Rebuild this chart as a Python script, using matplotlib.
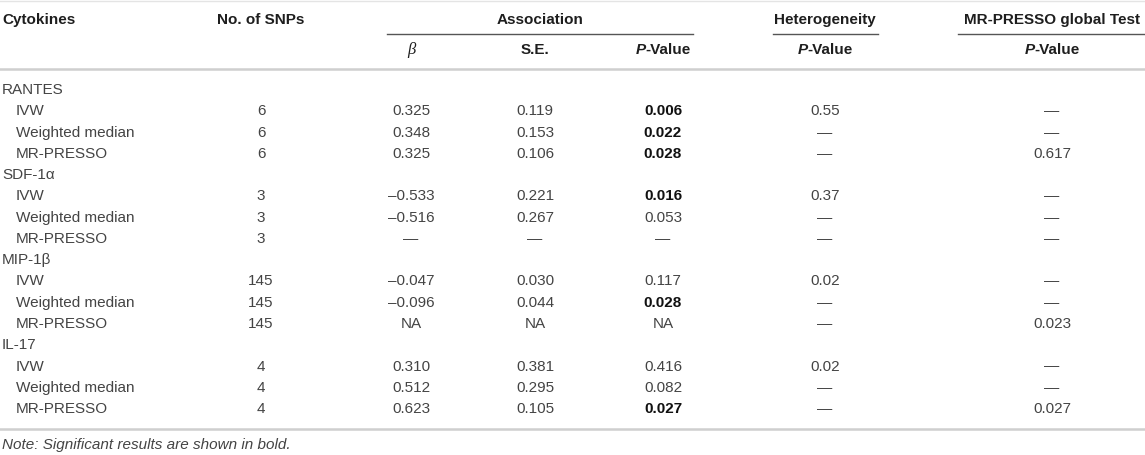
import matplotlib
matplotlib.use("Agg")
import matplotlib.pyplot as plt
from matplotlib.offsetbox import TextArea, HPacker, AnnotationBbox

plt.rcParams['font.family'] = ['Liberation Sans', 'DejaVu Sans']

groups = ["RANTES", "SDF-1\u03b1", "MIP-1\u03b2", "IL-17"]
methods = ["IVW", "Weighted median", "MR-PRESSO"]
D = "\u2014"
snps = [6, 3, 145, 4]
beta = [["0.325", "0.348", "0.325"],
        ["\u20130.533", "\u20130.516", D],
        ["\u20130.047", "\u20130.096", "NA"],
        ["0.310", "0.512", "0.623"]]
se = [["0.119", "0.153", "0.106"],
      ["0.221", "0.267", D],
      ["0.030", "0.044", "NA"],
      ["0.381", "0.295", "0.105"]]
pval = [["0.006", "0.022", "0.028"],
        ["0.016", "0.053", D],
        ["0.117", "0.028", "NA"],
        ["0.416", "0.082", "0.027"]]
pbold = [[True, True, True],
         [True, False, False],
         [False, True, False],
         [False, False, True]]
het = [["0.55", D, D],
       ["0.37", D, D],
       ["0.02", D, D],
       ["0.02", D, D]]
presso = [[D, D, "0.617"],
          [D, D, D],
          [D, D, "0.023"],
          [D, D, "0.027"]]
note = "Note: Significant results are shown in bold."

fig = plt.figure(figsize=(11.45, 4.55), dpi=100)
ax = fig.add_axes([0, 0, 1, 1])
ax.set_xlim(0, 1145)
ax.set_ylim(455, 0)
ax.axis('off')

fs = 11
txt = '#444444'
hdr = '#1e1e1e'
cols = {'snp': 261, 'beta': 411, 'se': 535, 'p': 663, 'het': 825, 'mr': 1052}

def pvalue_header(x, y):
    a = TextArea("P", textprops=dict(fontsize=fs, fontweight='bold', style='italic', color=hdr))
    b = TextArea("-Value", textprops=dict(fontsize=fs, fontweight='bold', color=hdr))
    box = HPacker(children=[a, b], pad=0, sep=0, align='baseline')
    ab = AnnotationBbox(box, (x, y), xycoords='data', frameon=False, box_alignment=(0.5, 0.5), pad=0)
    ax.add_artist(ab)

# rules
ax.plot([0, 1145], [1, 1], color='#e4e4e4', lw=1)
ax.plot([0, 1145], [69, 69], color='#cfcfcf', lw=1.8)
ax.plot([0, 1145], [429, 429], color='#cfcfcf', lw=1.8)
ax.plot([387, 693], [33.5, 33.5], color='#555555', lw=1)
ax.plot([773, 878], [33.5, 33.5], color='#555555', lw=1)
ax.plot([958, 1145], [33.5, 33.5], color='#555555', lw=1)

# header
y1, y2 = 20, 50
ax.text(2, y1, "Cytokines", fontsize=fs, fontweight='bold', color=hdr, va='center')
ax.text(cols['snp'], y1, "No. of SNPs", fontsize=fs, fontweight='bold', color=hdr, va='center', ha='center')
ax.text(540, y1, "Association", fontsize=fs, fontweight='bold', color=hdr, va='center', ha='center')
ax.text(825, y1, "Heterogeneity", fontsize=fs, fontweight='bold', color=hdr, va='center', ha='center')
ax.text(1052, y1, "MR-PRESSO global Test", fontsize=fs, fontweight='bold', color=hdr, va='center', ha='center')
ax.text(cols['beta'], y2, "\u03b2", fontsize=fs + 1, style='italic', family='Liberation Serif', color=hdr, va='center', ha='center')
ax.text(cols['se'], y2, "S.E.", fontsize=fs, fontweight='bold', color=hdr, va='center', ha='center')
pvalue_header(cols['p'], y2)
pvalue_header(cols['het'], y2)
pvalue_header(cols['mr'], y2)

# body
row = 0
y0, dy = 90, 21.27
for g in range(len(groups)):
    ax.text(2, y0 + row * dy, groups[g], fontsize=fs, color=txt, va='center')
    row += 1
    for m in range(len(methods)):
        y = y0 + row * dy
        ax.text(16, y, methods[m], fontsize=fs, color=txt, va='center')
        ax.text(cols['snp'], y, str(snps[g]), fontsize=fs, color=txt, va='center', ha='center')
        ax.text(cols['beta'], y, beta[g][m], fontsize=fs, color=txt, va='center', ha='center')
        ax.text(cols['se'], y, se[g][m], fontsize=fs, color=txt, va='center', ha='center')
        if pbold[g][m]:
            ax.text(cols['p'], y, pval[g][m], fontsize=fs, color='#111111', fontweight='bold', va='center', ha='center')
        else:
            ax.text(cols['p'], y, pval[g][m], fontsize=fs, color=txt, va='center', ha='center')
        ax.text(cols['het'], y, het[g][m], fontsize=fs, color=txt, va='center', ha='center')
        ax.text(cols['mr'], y, presso[g][m], fontsize=fs, color=txt, va='center', ha='center')
        row += 1

ax.text(2, 445, note, fontsize=fs, style='italic', color=txt, va='center')

fig.savefig("out.png", dpi=100)
